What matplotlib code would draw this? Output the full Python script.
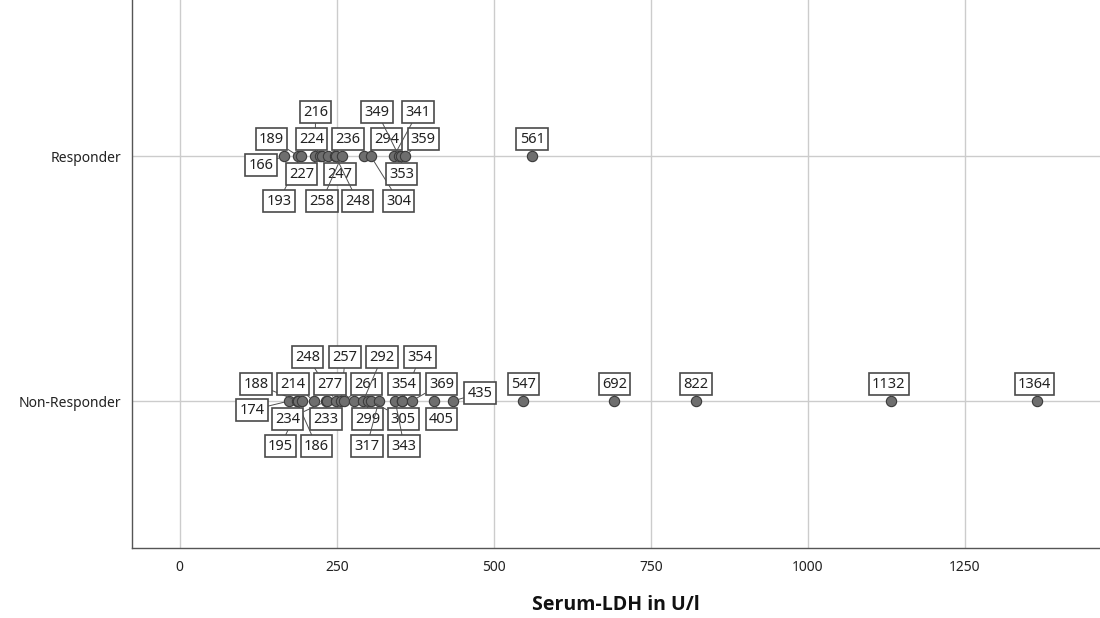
import matplotlib
matplotlib.use('Agg')
import matplotlib.pyplot as plt

# LDH values per group (each point is labelled with its value)
responder = [166, 189, 193, 216, 224, 227, 236, 247, 248, 258, 294, 304, 341, 349, 353, 359, 561]
non_responder = [174, 186, 188, 195, 214, 233, 234, 248, 257, 261, 277, 292, 299, 305, 317,
                 343, 354, 354, 369, 405, 435, 547, 692, 822, 1132, 1364]
groups = ['Non-Responder', 'Responder']
x_ticks = [0, 250, 500, 750, 1000, 1250]

# label offsets in pixels (dx, dy), same order as the value lists
resp_offsets = [(-23, -9), (-27, 17), (-22, -45), (0, 44), (-9, 17), (-21, -18), (20, 17),
                (5, -18), (22, -45), (-20, -45), (22, 17), (28, -45), (24, 44), (-22, 44),
                (0, -18), (18, 17), (0, 17)]
nonresp_offsets = [(-37, -9), (20, -45), (-42, 17), (-22, -45), (-21, 17), (0, -18), (-39, -18),
                   (-28, 44), (4, 44), (23, 17), (-24, 17), (19, 44), (0, -18), (32, -18),
                   (-12, -45), (9, -45), (18, 44), (2, 17), (30, 17), (7, -18), (27, 8),
                   (0, 17), (0, 17), (0, 17), (-2, 17), (-2, 17)]

plt.rcParams['font.family'] = ['Noto Sans', 'DejaVu Sans']

fig = plt.figure(figsize=(11, 6.18), dpi=100)
ax = fig.add_axes([0.12, 0.1133, 0.88, 0.8867])

ax.set_xlim(-76, 1465)
ax.set_ylim(-0.6, 1.637)

for g, vals in enumerate([non_responder, responder]):
    ax.scatter(vals, [g] * len(vals), s=55, facecolor='#6e6e6e', edgecolor='#3a3a3a',
               linewidth=0.8, zorder=3)

box = dict(boxstyle='square,pad=0.22', facecolor='white', edgecolor='#4a4a4a', linewidth=1.2)
line = dict(arrowstyle='-', color='#505050', linewidth=0.7, shrinkA=0, shrinkB=4)
for g, vals, offs in [(0, non_responder, nonresp_offsets), (1, responder, resp_offsets)]:
    for v, (dx, dy) in zip(vals, offs):
        ax.annotate(str(v), xy=(v, g), xytext=(dx, dy), textcoords='offset pixels',
                    ha='center', va='center', fontsize=10.5, color='#222222',
                    bbox=box, arrowprops=line, zorder=4)

ax.set_xticks(x_ticks)
ax.set_yticks([0, 1])
ax.set_yticklabels(groups)
ax.grid(True, color='#cccccc', linewidth=1, zorder=0)
ax.set_axisbelow(True)
ax.tick_params(length=0, labelsize=10, colors='#222222')
ax.tick_params(axis='x', pad=9)
ax.tick_params(axis='y', pad=8)

for s in ['top', 'right']:
    ax.spines[s].set_visible(False)
for s in ['left', 'bottom']:
    ax.spines[s].set_color('#555555')
    ax.spines[s].set_linewidth(1)

ax.set_xlabel('Serum-LDH in U/l', fontsize=14, fontweight='bold', color='#111111',
              labelpad=14, family=['Open Sans', 'DejaVu Sans'])

fig.savefig('out.png', dpi=100)
